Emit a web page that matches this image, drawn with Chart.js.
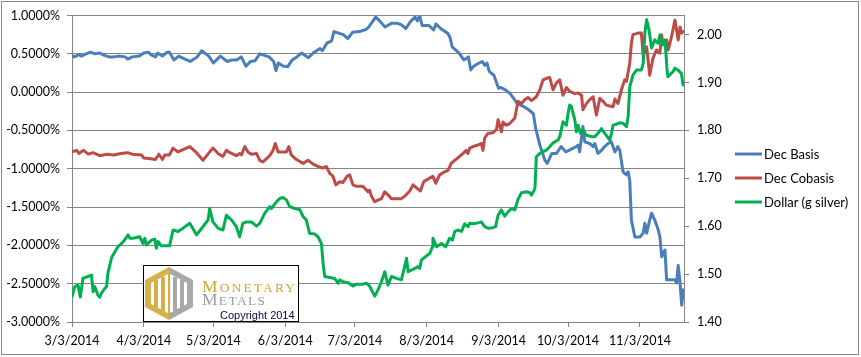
<!DOCTYPE html>
<html>
<head>
<meta charset="utf-8">
<script src="https://cdn.jsdelivr.net/npm/chart.js@4.4.1/dist/chart.umd.min.js"></script>
<style>
  html, body { margin: 0; padding: 0; background: #fff; }
  #wrap { position: relative; width: 861px; height: 357px; overflow: hidden; }
  #c { position: absolute; left: 0; top: 0; }
  #overlay { position: absolute; left: 0; top: 0; pointer-events: none; }
</style>
</head>
<body>
<div id="wrap">
  <canvas id="c" width="861" height="357"></canvas>
  <svg id="overlay" width="861" height="357" xmlns="http://www.w3.org/2000/svg">
    <rect x="1.5" y="1.5" width="857" height="353" fill="none" stroke="#8a8a8a" stroke-width="1"/>
    <!-- legend -->
    <g font-family="Lato, 'Open Sans', sans-serif" font-size="13" fill="#000">
      <line x1="735" y1="154" x2="762" y2="154" stroke="#4A7EBB" stroke-width="3"/>
      <text x="764" y="158.5">Dec Basis</text>
      <line x1="735" y1="178" x2="762" y2="178" stroke="#BE4B48" stroke-width="3"/>
      <text x="764" y="182.5">Dec Cobasis</text>
      <line x1="735" y1="202" x2="762" y2="202" stroke="#00B050" stroke-width="3"/>
      <text x="764" y="206.5">Dollar (g silver)</text>
    </g>
    <!-- logo -->
    <g transform="translate(143,265)">
      <rect x="0.5" y="0.5" width="155" height="56" fill="#fff" stroke="#000" stroke-width="1"/>
      <g transform="translate(2,2)">
        <polygon points="24,0 0,13 0,40 24,53" fill="#D6B04A"/>
        <polygon points="24,0 48,13 48,40 24,53" fill="#A8A8A8"/>
        <polygon points="23,7 6,16 6,37 23,46" fill="#fff"/>
        <polygon points="25,7 42,16 42,37 25,46" fill="#fff"/>
        <rect x="9" y="13" width="4" height="30" fill="#D6B04A"/>
        <rect x="16" y="10" width="4" height="35" fill="#D6B04A"/>
        <rect x="28" y="10" width="4" height="35" fill="#A8A8A8"/>
        <rect x="35" y="13" width="4" height="30" fill="#A8A8A8"/>
      </g>
      <text x="59" y="26.7" fill="#CFA63C" font-family="'Liberation Serif', serif" textLength="93" lengthAdjust="spacing"><tspan font-size="17.5">M</tspan><tspan font-size="13.5">ONETARY</tspan></text>
      <text x="59" y="39.5" fill="#9C9C9C" font-family="'Liberation Serif', serif" textLength="63" lengthAdjust="spacing"><tspan font-size="17.5">M</tspan><tspan font-size="13.5">ETALS</tspan></text>
      <text x="77" y="54" fill="#0A0A3A" font-family="'Liberation Sans', Arial, sans-serif" font-size="11">Copyright 2014</text>
    </g>
  </svg>
</div>
<script>
// ---- Data (x = days since 3/3/2014) ----
const basisDays = [0,1,3,4,6,8,10,12,14,16,18,20,23,24,26,29,31,33,34,36,37,39,41,42,
  44,46,48,51,54,56,59,61,63,64,67,69,71,73,75,77,79,81,83,85,
  87,88,89,91,93,95,97,99,102,104,107,108,110,112,113,115,117,119,121,124,127,128,
  131,133,135,138,140,142,144,146,148,149,150,151,154,156,157,159,162,163,164,167,169,171,172,
  173,175,177,178,179,180,182,184,185,187,189,191,192,195,197,199,200,202,204,205,207,209,211,213,215,
  217.6,218.3,219,220.4,221.2,223.3,224.8,225.5,226.9,228.4,229.8,231.3,232.7,234.2,235.5,236.3,237.7,239.2,239.9,240.6,241.3,242.8,245,246.4,247.1,247.9,249.2,250,251.4,252.9,253.6,254.4,255.8,256.5,260.1,260.8,261.5,262.3,263,263.7];
const basisValues = [0.48,0.46,0.49,0.47,0.50,0.52,0.50,0.51,0.48,0.46,0.46,0.47,0.46,0.43,0.46,0.47,0.51,0.52,0.49,0.46,0.51,0.47,0.52,0.52,
  0.42,0.47,0.44,0.40,0.46,0.54,0.47,0.38,0.44,0.47,0.40,0.42,0.42,0.46,0.34,0.40,0.41,0.50,0.48,0.46,
  0.40,0.28,0.38,0.34,0.33,0.42,0.46,0.51,0.45,0.51,0.57,0.54,0.64,0.67,0.79,0.77,0.75,0.70,0.78,0.79,0.82,0.85,
  0.98,0.92,0.85,0.90,0.90,0.88,0.83,0.92,0.98,0.93,1.00,0.87,0.87,0.81,0.89,0.83,0.77,0.72,0.59,0.51,0.42,0.46,0.29,
  0.33,0.37,0.40,0.35,0.38,0.27,0.22,0.05,0.06,0.03,-0.02,-0.10,-0.15,-0.19,-0.23,-0.28,-0.47,-0.71,-0.89,-0.93,-0.80,-0.80,-0.71,-0.78,-0.75,
  -0.71,-0.69,-0.78,-0.45,-0.65,-0.67,-0.71,-0.67,-0.80,-0.76,-0.71,-0.67,-0.65,-0.78,-0.71,-0.76,-1.04,-1.08,-1.04,-1.15,-1.67,-1.89,-1.89,-1.84,-1.71,-1.84,-1.67,-1.58,-1.67,-1.80,-1.89,-2.15,-2.06,-2.45,-2.45,-2.49,-2.26,-2.49,-2.78,-2.58];

const cobasisDays = [0,2,3,5,7,9,12,15,18,21,24,26,30,31,34,36,37.5,39,40,42,
  43.6,45.7,47.9,50.8,53.7,56.5,59.4,60.8,63,65.1,66.6,68.8,70.9,72.3,73.1,74.5,75.9,77.4,79.6,81,82.4,85.3,
  86.7,87.7,88.9,91,92.5,93.5,94.6,96.8,99.7,101.8,104,106.1,108.3,109.7,111.2,112.6,113.8,115.5,116.9,118.6,119.8,121.2,122.7,125.5,127.7,128.4,
  129.2,130.6,132,133.5,134.9,136.3,137.8,140,142.1,143.5,145.7,147.1,148.6,150.3,151.7,154.3,155.7,156.9,158.6,160.7,162.2,163.6,165.1,167.2,168.7,170.1,170.8,171.6,
  173,175.2,176.6,177.3,178,179.4,181.6,183.1,183.8,185.2,185.9,187.4,188.8,191,192.4,193.9,195.3,196.7,198.2,200.3,201.8,203.2,204.7,206.1,207.5,209,210.4,211.8,213.3,214.7,
  216.9,218.3,219.8,220.4,221.9,223.3,224.8,226.2,227.7,229.1,230.5,232,233.4,234.2,235.5,237,238.4,239.2,240.6,241.3,242,244.2,245.6,246.4,247.9,249.2,250.6,252.1,253.6,254.3,255,256.5,257.2,258.6,260.1,261.5,262.3,263,263.7];
const cobasisValues = [-0.78,-0.76,-0.80,-0.76,-0.81,-0.79,-0.83,-0.81,-0.82,-0.80,-0.79,-0.81,-0.82,-0.86,-0.87,-0.88,-0.81,-0.88,-0.82,-0.82,
  -0.73,-0.78,-0.75,-0.71,-0.79,-0.89,-0.78,-0.73,-0.80,-0.84,-0.76,-0.80,-0.83,-0.80,-0.82,-0.71,-0.78,-0.81,-0.80,-0.89,-0.91,-0.83,
  -0.76,-0.67,-0.78,-0.78,-0.78,-0.71,-0.82,-0.88,-0.93,-0.89,-0.94,-0.97,-0.99,-0.97,-1.06,-1.10,-1.21,-1.17,-1.18,-1.10,-1.08,-1.21,-1.23,-1.23,-1.30,-1.28,
  -1.36,-1.43,-1.41,-1.39,-1.30,-1.34,-1.39,-1.39,-1.39,-1.36,-1.29,-1.21,-1.25,-1.29,-1.17,-1.12,-1.10,-1.19,-1.08,-1.04,-1.02,-0.93,-0.89,-0.84,-0.80,-0.76,-0.80,-0.73,
  -0.71,-0.69,-0.67,-0.76,-0.60,-0.54,-0.53,-0.49,-0.36,-0.52,-0.39,-0.43,-0.41,-0.34,-0.12,-0.15,-0.10,-0.07,-0.11,-0.06,0.03,0.16,0.18,0.19,0.03,0.12,0.16,-0.04,0.06,0.01,
  -0.02,-0.01,-0.04,-0.23,-0.15,-0.10,-0.06,-0.30,-0.08,-0.12,-0.17,-0.18,-0.19,-0.09,-0.15,0.03,0.16,0.14,0.38,0.64,0.75,0.77,0.77,0.48,0.59,0.22,0.44,0.55,0.51,0.75,0.62,0.68,0.55,0.72,0.94,0.68,0.85,0.77,0.79];

const dollarDays = [0,1.2,2.6,3.6,4.7,6.9,8.4,9.1,9.8,11.2,12,12.7,14.1,14.9,15.5,17,17.7,19.8,21.4,22.7,24.2,24.9,26.3,29.2,30.6,31.4,32.1,34.3,35.7,36.4,37.1,38.6,42.1,
  43.6,45.7,47.9,50.8,53.7,56.5,58.7,59.4,60.8,63,65.1,66.6,68.8,70.9,72.3,73.7,75.2,77.4,79.6,81,83.1,85.3,
  86,88.2,89.6,91,92.5,93.9,96.1,98.2,99.7,101.1,102.5,104.7,106.1,107.6,108.3,109,111.2,113.3,114.8,115.5,116.9,119.1,121.2,122.7,125.5,127,128.4,
  129.2,130.6,132,133.5,134.9,136.3,137.8,140,142.1,143.5,144.3,145,147.1,149.3,150,150.7,152.9,154.3,155.5,155.7,157.3,159.4,161.2,162.9,164.1,165.1,166.5,168,169.4,170.8,171.6,
  173,175.2,176.6,178,179.4,181.6,182.7,183.8,185.2,186.7,188.1,189.6,191,192.4,193.9,196.1,197.5,198.2,199.7,200.3,201.8,203.2,204.7,206.1,207.5,209.7,210.4,211.8,213.3,214,214.7,
  215.4,216.9,217.6,218.3,219.3,220.4,221.9,224.1,225.5,226.9,228.4,229.8,232,232.7,233.4,234.9,236.3,237.7,239.2,239.9,240.6,242,243.5,245.6,246.4,247.1,247.9,248.9,250,251.4,252.8,253.6,254.3,255.8,256.7,257.1,259.3,260.1,261.4,262.9,263.6];
const dollarValues = [1.453,1.474,1.477,1.452,1.491,1.495,1.498,1.463,1.474,1.456,1.452,1.460,1.470,1.474,1.502,1.533,1.540,1.557,1.564,1.571,1.582,1.575,1.575,1.578,1.564,1.575,1.561,1.571,1.573,1.554,1.568,1.559,1.559,
  1.592,1.589,1.596,1.606,1.582,1.599,1.613,1.637,1.609,1.596,1.592,1.623,1.613,1.599,1.578,1.606,1.609,1.609,1.600,1.606,1.627,1.641,
  1.637,1.651,1.658,1.660,1.655,1.641,1.637,1.635,1.620,1.613,1.585,1.584,1.578,1.564,1.523,1.495,1.493,1.491,1.481,1.488,1.484,1.482,1.475,1.479,1.479,1.481,1.475,
  1.467,1.454,1.467,1.484,1.505,1.477,1.495,1.491,1.488,1.516,1.533,1.505,1.510,1.516,1.512,1.529,1.538,1.543,1.557,1.575,1.557,1.564,1.557,1.575,1.571,1.589,1.592,1.589,1.605,1.599,1.606,
  1.605,1.607,1.609,1.599,1.596,1.597,1.599,1.623,1.634,1.621,1.630,1.637,1.634,1.656,1.670,1.672,1.670,1.665,1.679,1.745,1.752,1.756,1.759,1.766,1.774,1.780,1.787,1.818,1.811,1.836,1.853,
  1.850,1.822,1.797,1.811,1.794,1.801,1.790,1.787,1.787,1.794,1.804,1.794,1.780,1.794,1.811,1.813,1.816,1.815,1.808,1.829,1.891,1.916,1.926,1.926,1.940,2.003,2.031,2.010,1.972,1.989,1.982,1.999,1.978,1.989,1.926,1.912,1.923,1.930,1.926,1.919,1.895];

const xTickDays = [0,31,61,92,122,153,184,214,245];
const xTickLabels = ['3/3/2014','4/3/2014','5/3/2014','6/3/2014','7/3/2014','8/3/2014','9/3/2014','10/3/2014','11/3/2014'];
const leftTicks = [-3,-2.5,-2,-1.5,-1,-0.5,0,0.5,1];
const rightTicks = [1.4,1.5,1.6,1.7,1.8,1.9,2.0];

const toPoints = (xs, ys) => xs.map((x, i) => ({ x: x, y: ys[i] }));

const AXIS = '#868686';
const FONT = { family: "Lato, 'Open Sans', sans-serif", size: 12.5 };

new Chart(document.getElementById('c').getContext('2d'), {
  type: 'line',
  data: {
    datasets: [
      { label: 'Dollar (g silver)', data: toPoints(dollarDays, dollarValues), yAxisID: 'y2', borderColor: '#00B050', order: 0 },
      { label: 'Dec Cobasis', data: toPoints(cobasisDays, cobasisValues), yAxisID: 'y', borderColor: '#BE4B48', order: 1 },
      { label: 'Dec Basis', data: toPoints(basisDays, basisValues), yAxisID: 'y', borderColor: '#4A7EBB', order: 2 }
    ]
  },
  options: {
    responsive: false,
    animation: false,
    devicePixelRatio: 1,
    layout: { autoPadding: false, padding: { top: 15, left: 0, right: 0, bottom: 0 } },
    plugins: { legend: { display: false }, tooltip: { enabled: false } },
    elements: {
      point: { radius: 0 },
      line: { tension: 0, borderWidth: 3, borderJoinStyle: 'round', borderCapStyle: 'round', fill: false }
    },
    scales: {
      x: {
        type: 'linear', min: 0, max: 264,
        afterBuildTicks: s => { s.ticks = xTickDays.map(v => ({ value: v })); },
        afterFit: s => { s.height = 35; },
        grid: { drawOnChartArea: false, drawTicks: true, tickLength: 5, color: AXIS },
        border: { color: AXIS },
        ticks: {
          autoSkip: false, maxRotation: 0, padding: 6, color: '#000', font: FONT,
          callback: v => xTickLabels[xTickDays.indexOf(v)]
        }
      },
      y: {
        position: 'left', min: -3, max: 1,
        afterBuildTicks: s => { s.ticks = leftTicks.map(v => ({ value: v })); },
        afterFit: s => { s.width = 72; },
        grid: { color: AXIS, tickLength: 5 },
        border: { color: AXIS },
        ticks: { padding: 7, color: '#000', font: FONT, callback: v => v.toFixed(4) + '%' }
      },
      y2: {
        position: 'right', min: 1.4, max: 2.04,
        afterBuildTicks: s => { s.ticks = rightTicks.map(v => ({ value: v })); },
        afterFit: s => { s.width = 177; },
        grid: { drawOnChartArea: false, tickLength: 5, color: AXIS },
        border: { color: AXIS },
        ticks: { padding: 8, color: '#000', font: FONT, callback: v => v.toFixed(2) }
      }
    }
  }
});
</script>
</body>
</html>
